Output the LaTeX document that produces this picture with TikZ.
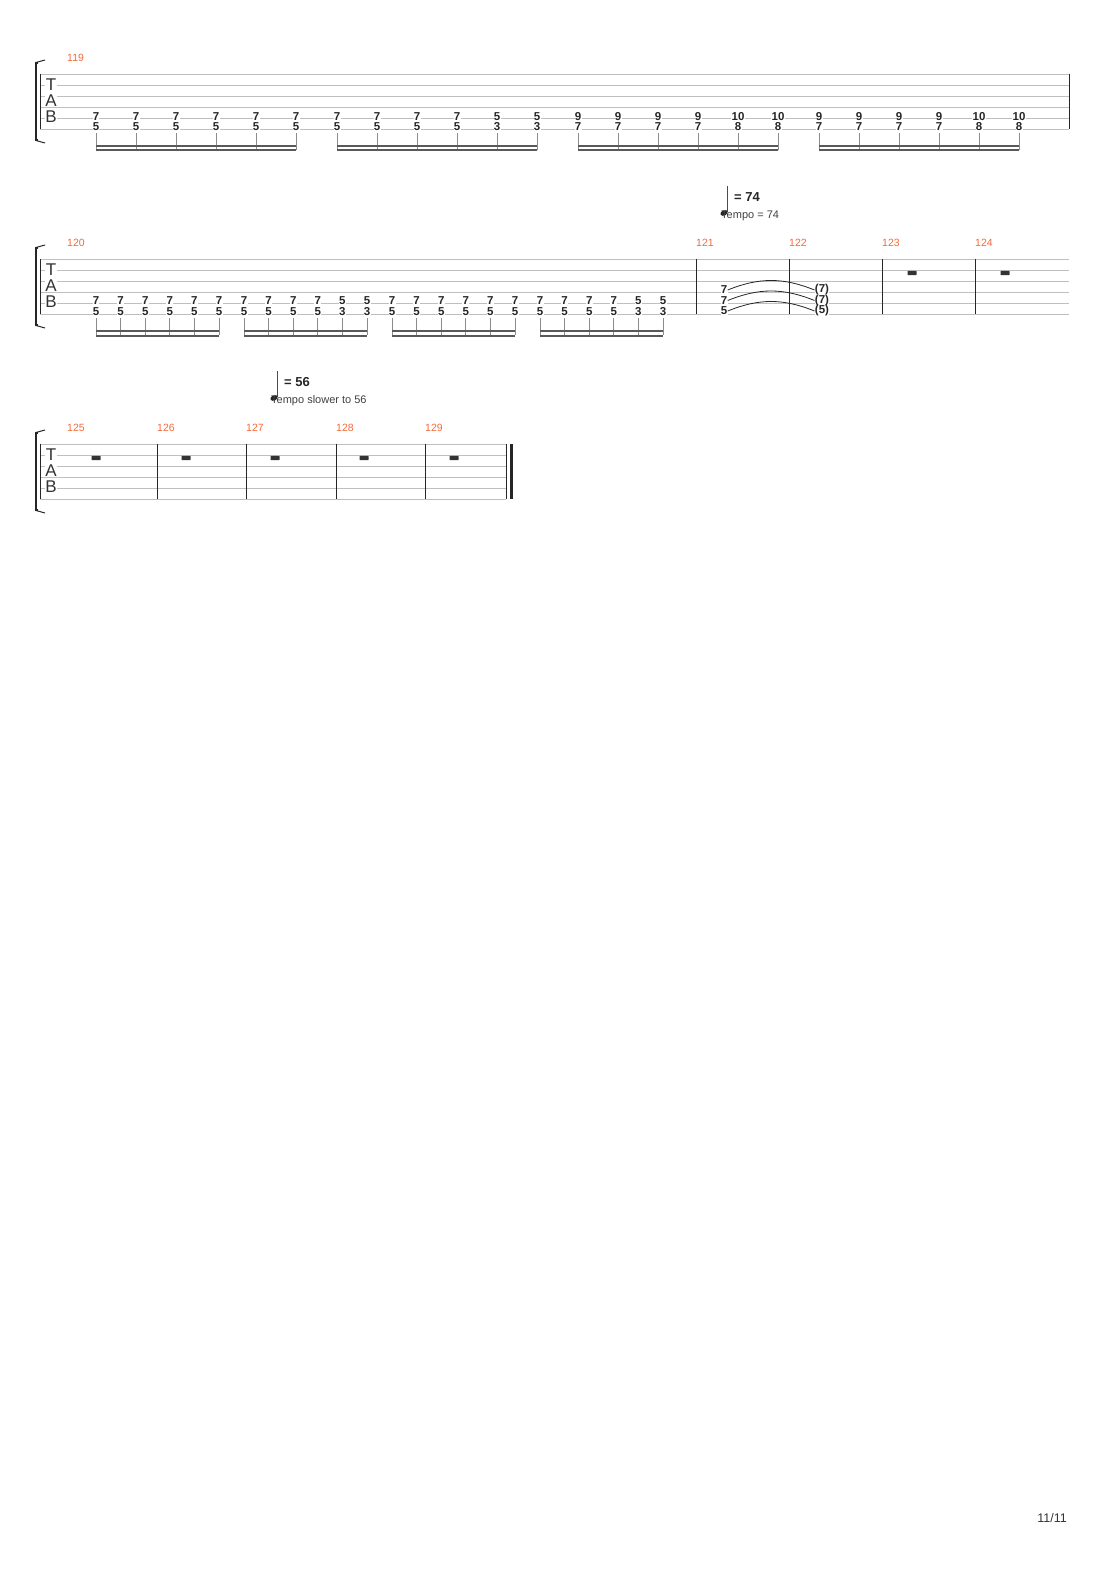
\documentclass[tikz,border=0pt]{standalone}
\usepackage{fontspec}
\setmainfont{Liberation Sans}
\begin{document}
\begin{tikzpicture}[x=1pt,y=-1pt,
  sl/.style={draw=black!25,line width=0.8pt},
  bar/.style={draw=black!85,line width=0.8pt},
  fret/.style={font=\bfseries\fontsize{11.5}{11.5}\selectfont,text=black!85,inner sep=0.3pt,fill=white},
  mnum/.style={font=\fontsize{10.5}{10.5}\selectfont,text={rgb,255:red,242;green,106;blue,58},anchor=west,inner sep=0},
  tabl/.style={font=\fontsize{17}{17}\selectfont,text=black!80,inner sep=0.5pt,fill=white},
  stm/.style={draw=black!45,line width=0.7pt},
  beam/.style={draw=black!65,line width=2pt},
  rst/.style={fill=black!80,rounded corners=0.6pt},
  tie/.style={draw=black!85,line width=0.8pt}]
\useasboundingbox (0,0) rectangle (1110,1570);
\foreach \y/\xe in {74/1069,259/1069,444/506}{
  \foreach \k in {0,...,5}{\draw[sl] (40,\y+11*\k) -- (\xe,\y+11*\k);}
  \draw[bar] (40,\y) -- (40,\y+55);
  \node[tabl] at (51,\y+11) {T};
  \node[tabl] at (51,\y+27) {A};
  \node[tabl] at (51,\y+43) {B};
  \draw[line width=2.4pt,black!85] (38,\y-11) -- (36,\y-11) -- (36,\y+66) -- (38,\y+66);
  \draw[line width=1pt,black!85] (36,\y-11.5) -- (45,\y-14);
  \draw[line width=1pt,black!85] (36,\y+66.5) -- (45,\y+69);
}
\draw[bar] (1069,74) -- (1069,129);
\node[mnum] at (67,58) {119};
\foreach \x/\n in {67/120,696/121,789/122,882/123,975/124}{\node[mnum] at (\x,243) {\n};}
\foreach \x/\n in {67/125,157/126,246/127,336/128,425/129}{\node[mnum] at (\x,428) {\n};}
\foreach \g/\xs/\d/\vals in {
  1/96/40/{7/5,7/5,7/5,7/5,7/5,7/5},
  2/337/40/{7/5,7/5,7/5,7/5,5/3,5/3},
  3/578/40/{9/7,9/7,9/7,9/7,10/8,10/8},
  4/819/40/{9/7,9/7,9/7,9/7,10/8,10/8}}{
  \foreach \a/\b [count=\i from 0] in \vals{
    \pgfmathsetmacro\xx{\xs+\i*\d}
    \draw[stm] (\xx,133) -- (\xx,150);
    \node[fret] (a\g\i) at (\xx,116.5) {\a};
    \node[fret] (b\g\i) at (\xx,127) {\b};
  }
  \draw[beam] (\xs,146) -- (\xs+5*\d,146);
  \draw[beam] (\xs,150.5) -- (\xs+5*\d,150.5);
}
\foreach \g/\xs/\vals in {
  1/96/{7/5,7/5,7/5,7/5,7/5,7/5},
  2/244/{7/5,7/5,7/5,7/5,5/3,5/3},
  3/392/{7/5,7/5,7/5,7/5,7/5,7/5},
  4/540/{7/5,7/5,7/5,7/5,5/3,5/3}}{
  \foreach \a/\b [count=\i from 0] in \vals{
    \pgfmathsetmacro\xx{\xs+\i*24.6}
    \draw[stm] (\xx,318) -- (\xx,335);
    \node[fret] (c\g\i) at (\xx,301) {\a};
    \node[fret] (d\g\i) at (\xx,311.5) {\b};
  }
  \draw[beam] (\xs,331) -- (\xs+123,331);
  \draw[beam] (\xs,335.5) -- (\xs+123,335.5);
}
\foreach \x in {696,789,882,975}{\draw[bar] (\x,259) -- (\x,314);}
\node[fret] (t1) at (724,290) {7};
\node[fret] (t2) at (724,300.5) {7};
\node[fret] (t3) at (724,311) {5};
\node[fret] (u1) at (822,290) {(7)};
\node[fret] (u2) at (822,300.5) {(7)};
\node[fret] (u3) at (822,311) {(5)};
\foreach \i in {1,2,3}{\draw[tie] (t\i.east) to[bend left=22] (u\i.west);}
\foreach \x/\y in {912/273,1005/273,96/458,186/458,275/458,364/458,454/458}{
  \fill[rst] (\x-4.5,\y-2.2) rectangle (\x+4.5,\y+2.2);}
\foreach \x in {157,246,336,425}{\draw[bar] (\x,444) -- (\x,499);}
\draw[bar] (506,444) -- (506,499);
\draw[line width=3pt,black!85] (511.5,444) -- (511.5,499);
\foreach \x/\yb/\t/\s in {724/190/74/{Tempo = 74},274/375/56/{Tempo slower to 56}}{
  \draw[black!70,line width=0.7pt] (\x+3.5,\yb-4) -- (\x+3.5,\yb+22);
  \fill[black!85,rotate around={25:(\x,\yb+23)}] (\x,\yb+23) ellipse (3.8 and 2.6);
  \node[anchor=west,inner sep=0,font=\bfseries\fontsize{13}{13}\selectfont,text=black!85] (tm\t) at (\x+10,\yb+7) {= \t};
  \node[anchor=west,inner sep=0,font=\fontsize{11}{11}\selectfont,text=black!75] (tx\t) at (\x-3,\yb+26) {\s};
}
\node[anchor=east,inner sep=0,font=\fontsize{12.5}{12.5}\selectfont,text=black!80] (pg) at (1067,1518) {11/11};
\end{tikzpicture}
\end{document}
